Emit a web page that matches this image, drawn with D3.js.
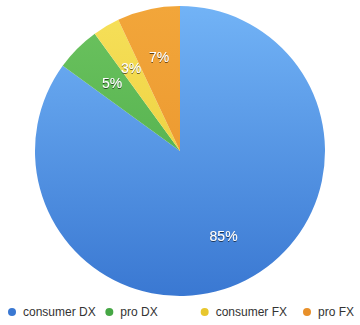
<!DOCTYPE html>
<html lang="en">
<head>
<meta charset="UTF-8">
<title>Pie</title>
<script src="https://d3js.org/d3.v7.min.js"></script>
<style>
  body { margin: 0; background: #fff; }
  text { font-family: "Helvetica Neue", "Liberation Sans", Arial, sans-serif; }
</style>
</head>
<body>
<svg width="360" height="325"></svg>
<script>
// chart data
var categories = ["consumer DX", "pro DX", "consumer FX", "pro FX"];
var shares = [85, 5, 3, 7];
var colorsTop = ["#72b3f6", "#6cc35f", "#f6e05a", "#f2a63a"];
var colorsBottom = ["#3a78d2", "#46a745", "#e8c72e", "#e8902a"];

var svg = d3.select("svg");
var cx = 180, cy = 151, R = 145;

var defs = svg.append("defs");
categories.forEach(function (c, i) {
    var g = defs.append("linearGradient")
        .attr("id", "grad" + i)
        .attr("gradientUnits", "userSpaceOnUse")
        .attr("x1", 0).attr("y1", -R).attr("x2", 0).attr("y2", R);
    g.append("stop").attr("offset", "0%").attr("stop-color", colorsTop[i]);
    g.append("stop").attr("offset", "100%").attr("stop-color", colorsBottom[i]);
});

var shadow = defs.append("filter").attr("id", "shadow")
    .attr("x", "-20%").attr("y", "-20%").attr("width", "140%").attr("height", "140%");
shadow.append("feDropShadow")
    .attr("dx", 0).attr("dy", 0.8).attr("stdDeviation", 0.6)
    .attr("flood-color", "#000").attr("flood-opacity", 0.75);

var pie = d3.pie().sort(null).value(function (d) { return d; });
var arcs = pie(shares);

var arc = d3.arc().innerRadius(0).outerRadius(R);
var labelArc = d3.arc().innerRadius(96).outerRadius(96);

var plot = svg.append("g").attr("transform", "translate(" + cx + "," + cy + ")");

plot.selectAll("path")
    .data(arcs)
    .enter()
    .append("path")
    .attr("d", arc)
    .attr("fill", function (d, i) { return "url(#grad" + i + ")"; });

plot.selectAll("text.lbl")
    .data(arcs)
    .enter()
    .append("text")
    .attr("class", "lbl")
    .attr("transform", function (d) { return "translate(" + labelArc.centroid(d) + ")"; })
    .attr("text-anchor", "middle")
    .attr("dy", "0.35em")
    .attr("font-size", 14)
    .attr("fill", "#fff")
    .attr("filter", "url(#shadow)")
    .text(function (d) { return d.data + "%"; });

// legend
var legendX = d3.scalePoint().domain(categories).range([12, 307]);
var offsets = [0, -1, -4, 0];
var legend = svg.append("g").selectAll("g")
    .data(categories)
    .enter()
    .append("g")
    .attr("transform", function (d, i) { return "translate(" + (legendX(d) + offsets[i]) + ",312)"; });

legend.append("circle")
    .attr("r", 4)
    .attr("fill", function (d, i) { return colorsBottom[i]; });

legend.append("text")
    .attr("x", 11)
    .attr("dy", "0.35em")
    .attr("font-size", 12)
    .attr("fill", "#333")
    .text(function (d) { return d; });
</script>
</body>
</html>
